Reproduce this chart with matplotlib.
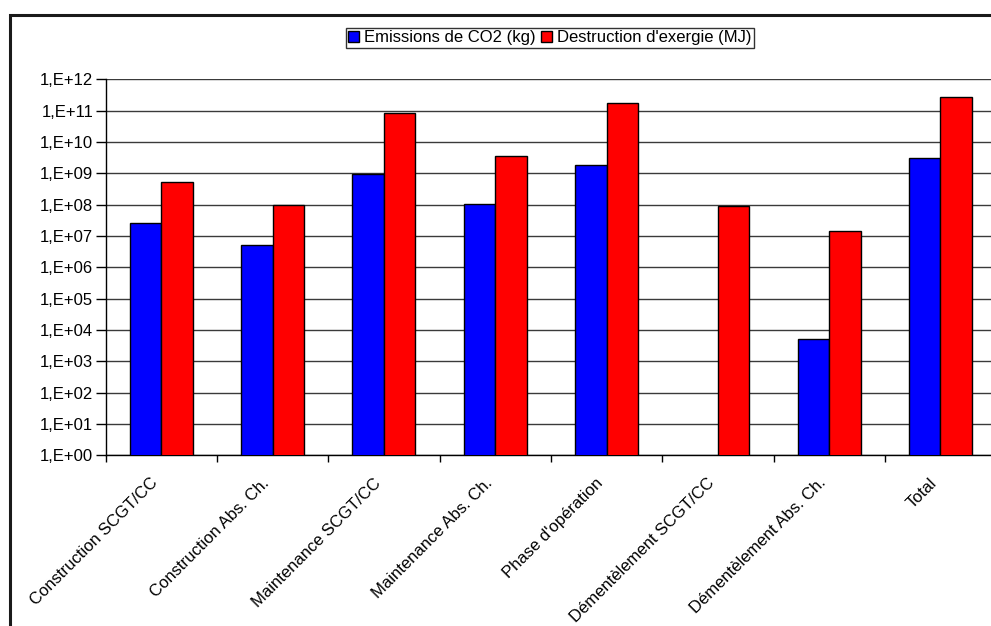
import numpy as np
import matplotlib.pyplot as plt
from matplotlib.ticker import FixedLocator, FuncFormatter, NullFormatter
from matplotlib.patches import Rectangle
from matplotlib.transforms import ScaledTranslation, blended_transform_factory

plt.rcParams['font.family'] = ['Liberation Sans', 'DejaVu Sans']

categories = ['Construction SCGT/CC', 'Construction Abs. Ch.', 'Maintenance SCGT/CC',
              'Maintenance Abs. Ch.', "Phase d'opération", 'Démentèlement SCGT/CC',
              'Démentèlement Abs. Ch.', 'Total']
co2 = [2.5e7, 5.2e6, 9.5e8, 1.05e8, 1.9e9, np.nan, 5.0e3, 3.1e9]
exergie = [5.2e8, 9.5e7, 8.6e10, 3.6e9, 1.8e11, 9.1e7, 1.4e7, 2.7e11]
series_names = ['Emissions de CO2 (kg)', "Destruction d'exergie (MJ)"]

W, H = 991, 626
fig = plt.figure(figsize=(W / 100, H / 100), dpi=100)
ax = fig.add_axes([105.7 / W, 1 - 455.3 / H, 890.4 / W, 376 / H])

x = np.arange(len(categories))
bw = 0.283
ax.bar(x - bw / 2, co2, bw, color='#0000ff', edgecolor='black', linewidth=1,
       label=series_names[0], zorder=3)
ax.bar(x + bw / 2, exergie, bw, color='#ff0000', edgecolor='black', linewidth=1,
       label=series_names[1], zorder=3)

ax.set_yscale('log')
ax.set_ylim(1, 1e12)
ax.set_xlim(-0.5, len(categories) - 0.5)

decades = [10.0 ** k for k in range(13)]
ax.yaxis.set_major_locator(FixedLocator(decades))
ax.yaxis.set_minor_locator(FixedLocator([]))
ax.yaxis.set_major_formatter(FuncFormatter(lambda v, p: '1,E+%02d' % round(np.log10(v))))
ax.grid(axis='y', color='#3a3a3a', linewidth=1, zorder=0)

# category labels, drawn as text so they can sit a little left of the centre
ax.set_xticks(x)
ax.set_xticklabels([])
ax.tick_params(axis='x', which='major', length=0)
trans = blended_transform_factory(ax.transData, ax.transAxes) + \
    ScaledTranslation(-11 / 100, -20 / 100, fig.dpi_scale_trans)
for xi, name in zip(x, categories):
    ax.text(xi, 0, name, transform=trans, rotation=45, ha='right', va='top',
            rotation_mode='anchor', fontsize=12)

ax.xaxis.set_minor_locator(FixedLocator(np.arange(len(categories) + 1) - 0.5))
ax.xaxis.set_minor_formatter(NullFormatter())
ax.tick_params(axis='x', which='minor', length=5, width=1, color='black', direction='out')
ax.tick_params(axis='y', length=7, width=1, direction='out', labelsize=12, pad=2)

for s in ['top', 'right']:
    ax.spines[s].set_visible(False)
for s in ['left', 'bottom']:
    ax.spines[s].set_color('black')
    ax.spines[s].set_linewidth(1)

leg = fig.legend(loc='center', bbox_to_anchor=(550 / W, 1 - 37.5 / H), ncol=2,
                 frameon=True, fancybox=False, edgecolor='black', fontsize=12,
                 handlelength=0.65, handleheight=0.65, handletextpad=0.3,
                 columnspacing=0.35, borderpad=0.15, borderaxespad=0)
leg.get_frame().set_linewidth(1)

fig.patches.append(Rectangle((9.5 / W, -0.1), 1.2, 1 - 14.5 / H + 0.1,
                             transform=fig.transFigure, fill=False,
                             edgecolor='#1a1a1a', linewidth=2.2))

fig.savefig('out.png', dpi=100)
